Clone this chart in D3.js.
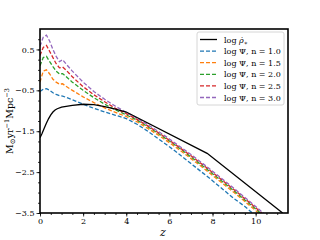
<!DOCTYPE html>
<html><head><meta charset="utf-8">
<script src="https://cdn.jsdelivr.net/npm/d3@7"></script>
<style>body{margin:0;background:#fff}svg{display:block}</style>
</head><body>
<svg id="c" width="320" height="240"></svg>
<script>
const zGrid = [0,0.15,0.3,0.45,0.6,0.75,0.9,1.05,1.2,1.5,2,2.5,3,3.5,4,4.5,5,5.5,6,6.5,7,7.5,8,8.5,9,9.5,10,10.5];
const psi10 = [-0.53,-0.47,-0.46,-0.5,-0.56,-0.6,-0.63,-0.64,-0.67,-0.73,-0.84,-0.94,-1.03,-1.11,-1.19,-1.33,-1.5,-1.69,-1.88,-2.08,-2.29,-2.5,-2.71,-2.93,-3.15,-3.34,-3.57,-3.8];
const psi15 = [-0.3,-0.03,0.0,-0.1,-0.23,-0.3,-0.35,-0.34,-0.4,-0.5,-0.66,-0.8,-0.93,-1.04,-1.14,-1.27,-1.43,-1.6,-1.78,-1.97,-2.17,-2.37,-2.58,-2.79,-3.0,-3.22,-3.44,-3.67];
const psi20 = [0.1,0.3,0.33,0.2,0.08,-0.03,-0.1,-0.09,-0.16,-0.3,-0.5,-0.68,-0.84,-0.98,-1.1,-1.23,-1.39,-1.56,-1.74,-1.93,-2.13,-2.33,-2.54,-2.75,-2.96,-3.18,-3.4,-3.63];
const psi25 = [0.35,0.55,0.6,0.45,0.3,0.15,0.05,0.07,0.0,-0.17,-0.41,-0.61,-0.78,-0.94,-1.07,-1.21,-1.37,-1.54,-1.72,-1.91,-2.1,-2.3,-2.51,-2.72,-2.93,-3.15,-3.37,-3.6];
const psi30 = [0.58,0.8,0.85,0.7,0.5,0.33,0.2,0.25,0.15,-0.03,-0.3,-0.53,-0.72,-0.89,-1.04,-1.18,-1.34,-1.51,-1.69,-1.88,-2.07,-2.27,-2.48,-2.69,-2.9,-3.12,-3.34,-3.57];
const rhoZ = [0,0.1,0.2,0.3,0.4,0.5,0.6,0.7,0.8,1,1.5,2,2.5,3,3.5,4,7.75,11.25];
const rhoV = [-1.66,-1.55,-1.42,-1.3,-1.19,-1.1,-1.03,-0.98,-0.95,-0.91,-0.87,-0.84,-0.85,-0.9,-0.96,-1.03,-2.04,-3.5];
const seriesNames = ["n = 1.0","n = 1.5","n = 2.0","n = 2.5","n = 3.0"];
const seriesColors = ["#1f77b4","#ff7f0e","#2ca02c","#d62728","#9467bd"];
const seriesVals = [psi10,psi15,psi20,psi25,psi30];
const xTicks = [0,2,4,6,8,10];
const yTicks = [0.5,-0.5,-1.5,-2.5,-3.5];

const svg = d3.select("#c");
const L=40,R=288,T=29,B=213;
const x = d3.scaleLinear().domain([0,11.5]).range([L,R]);
const y = d3.scaleLinear().domain([-3.5,1.0]).range([B,T]);
const serif = "'DejaVu Serif', 'Liberation Serif', serif";

svg.append("clipPath").attr("id","clp").append("rect").attr("x",L).attr("y",T).attr("width",R-L).attr("height",B-T);
const g = svg.append("g").attr("clip-path","url(#clp)");
const line = d3.line().x(d=>x(d[0])).y(d=>y(d[1]));

seriesVals.forEach((vals,i)=>{
  g.append("path").attr("d", line(zGrid.map((z,j)=>[z,vals[j]])))
   .attr("fill","none").attr("stroke",seriesColors[i]).attr("stroke-width",1.3)
   .attr("stroke-dasharray","4,2");
});
g.append("path").attr("d", line(rhoZ.map((z,j)=>[z,rhoV[j]])))
  .attr("fill","none").attr("stroke","#000").attr("stroke-width",1.3);

// axes
const xAx = d3.axisBottom(x).tickValues(xTicks).tickSize(3.5).tickPadding(2).tickFormat(d3.format("d"));
const yAx = d3.axisLeft(y).tickValues(yTicks).tickSize(3.5).tickPadding(2).tickFormat(d=>d3.format(".1f")(d).replace("-","\u2212"));
const xMinor = d3.axisBottom(x).tickValues(d3.range(0,11.5,0.5)).tickSize(2).tickFormat("");
const yMinor = d3.axisLeft(y).tickValues(d3.range(-3.5,1.0,0.25)).tickSize(2).tickFormat("");
[ [xMinor,"b"],[yMinor,"l"],[xAx,"b"],[yAx,"l"] ].forEach(([ax,s])=>{
  const a = svg.append("g").attr("transform", s==="b"?`translate(0,${B})`:`translate(${L},0)`).call(ax);
  a.select(".domain").remove();
  a.selectAll("line").attr("stroke","#000").attr("stroke-width",0.8);
  a.selectAll("text").attr("font-family",serif).attr("font-size",8).attr("fill","#000");
});
svg.append("rect").attr("x",L).attr("y",T).attr("width",R-L).attr("height",B-T)
  .attr("fill","none").attr("stroke","#000").attr("stroke-width",1.6);

// labels
svg.append("text").attr("x",163).attr("y",236).attr("text-anchor","middle")
  .attr("font-family",serif).attr("font-style","italic").attr("font-size",11).text("z");
const yl = svg.append("text").attr("transform","translate(13,121) rotate(-90)").attr("text-anchor","middle")
  .attr("font-family",serif).attr("font-size",9.5);
yl.append("tspan").text("M");
yl.append("tspan").attr("font-size",7).attr("dy",2).text("\u2299");
yl.append("tspan").attr("dy",-2).text("yr");
yl.append("tspan").attr("font-size",6.5).attr("dy",-4).text("\u22121");
yl.append("tspan").attr("dy",4).text("Mpc");
yl.append("tspan").attr("font-size",6.5).attr("dy",-4).text("\u22123");

// legend
const lg = svg.append("g");
lg.append("rect").attr("x",197).attr("y",32).attr("width",87).attr("height",73).attr("rx",2)
  .attr("fill","#fff").attr("fill-opacity",0.8).attr("stroke","#ccc").attr("stroke-width",0.8);
const rowY = i=>39.5+i*11.6;
lg.append("line").attr("x1",200).attr("x2",217).attr("y1",rowY(0)).attr("y2",rowY(0)).attr("stroke","#000").attr("stroke-width",1.3);
const t0 = lg.append("text").attr("x",224).attr("y",rowY(0)+3).attr("font-family",serif).attr("font-size",8);
t0.append("tspan").text("log ");
t0.append("tspan").attr("font-style","italic").text("\u03C1\u0307");
t0.append("tspan").attr("font-size",6).attr("dy",2).text("\u2217");
seriesNames.forEach((n,i)=>{
  const yy=rowY(i+1);
  lg.append("line").attr("x1",200).attr("x2",217).attr("y1",yy).attr("y2",yy)
    .attr("stroke",seriesColors[i]).attr("stroke-width",1.3).attr("stroke-dasharray","4,2");
  lg.append("text").attr("x",224).attr("y",yy+3).attr("font-family",serif).attr("font-size",8)
    .text("log \u03A8, "+n);
});
</script>
</body></html>
